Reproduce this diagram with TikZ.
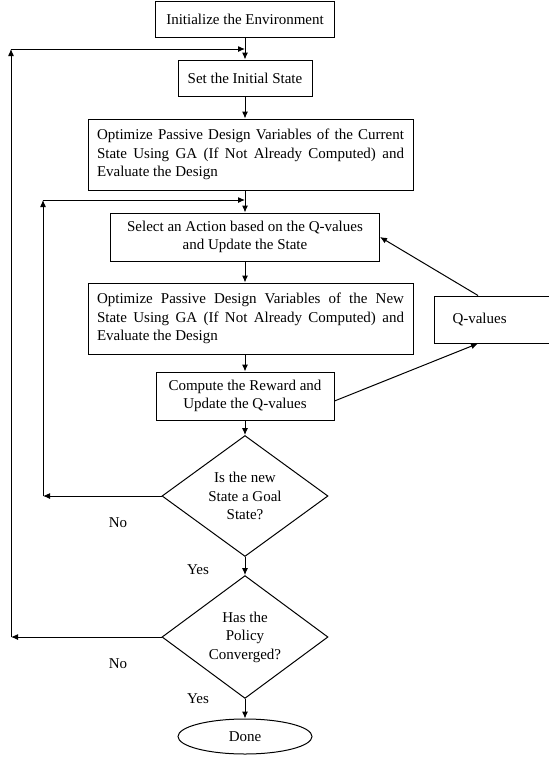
\documentclass[tikz,border=0pt]{standalone}
\usepackage{fontspec}
\setmainfont{Liberation Serif}
\usetikzlibrary{arrows.meta,shapes.geometric}
\newcommand{\flowfont}{\fontsize{15}{18.5}\selectfont}
\tikzstyle{bx}=[rectangle,draw=black,line width=1pt,inner sep=0pt,
  font=\flowfont,align=center]
\tikzstyle{jbx}=[bx,inner xsep=9pt,text width=307pt,align=justify,
  minimum height=71pt]
\tikzstyle{dm}=[diamond,draw=black,line width=1pt,inner sep=0pt,
  minimum width=166pt,minimum height=116pt,font=\flowfont,align=center]
\tikzstyle{el}=[ellipse,draw=black,line width=1pt,inner sep=0pt,
  minimum width=134pt,minimum height=35pt,font=\flowfont]
\tikzstyle{lbl}=[font=\flowfont,inner sep=0pt]
\tikzstyle{ar}=[line width=1pt,-{Latex[length=7pt,width=6pt]}]

\begin{document}
\begin{tikzpicture}[x=1pt,y=-1pt]
    \useasboundingbox (0,0) rectangle (549,758);
    \node [style=bx,minimum width=179pt,minimum height=36pt] (0) at (245,19) {Initialize the Environment};
    \node [style=bx,minimum width=134pt,minimum height=36pt] (1) at (245,78) {Set the Initial State};
    \node [style=jbx] (2) at (250.5,154.5) {Optimize Passive Design Variables of the Current\linebreak
      State Using GA (If Not Already Computed) and\linebreak Evaluate the Design};
    \node [style=bx,minimum width=269pt,minimum height=48pt] (3) at (245,237) {Select an Action based on the Q-values\\and Update the State};
    \node [style=jbx] (4) at (250.5,318.5) {Optimize Passive Design Variables of the New\linebreak
      State Using GA (If Not Already Computed) and\linebreak Evaluate the Design};
    \node [style=bx,minimum width=178pt,minimum height=48pt] (5) at (245,396) {Compute the Reward and\\Update the Q-values};
    \node [style=bx,anchor=west,minimum width=126pt,minimum height=47pt,
      text width=90pt,inner xsep=18pt,align=left] (6) at (434,319.5) {Q-values};
    \node [style=dm] (7) at (245,496) {Is the new\\State a Goal\\State?};
    \node [style=dm] (8) at (245,637) {Has the\\Policy\\Converged?};
    \node [style=el] (9) at (245,736.5) {Done};
    \node [style=lbl] (n1) at (118,523) {No};
    \node [style=lbl] (y1) at (198,570) {Yes};
    \node [style=lbl] (n2) at (118,664) {No};
    \node [style=lbl] (y2) at (198,699) {Yes};
    \coordinate (a) at (43,496);
    \coordinate (b) at (43,200);
    \coordinate (c) at (245,200);
    \coordinate (d) at (11,637);
    \coordinate (e) at (11,49);
    \coordinate (f) at (245,49);
    \draw [style=ar] (0) to (1);
    \draw [style=ar] (1.south) to (1.south |- 2.north);
    \draw [style=ar] (2.south -| 3.north) to (3.north);
    \draw [style=ar] (3.south) to (3.south |- 4.north);
    \draw [style=ar] (4.south -| 5.north) to (5.north);
    \draw [style=ar] (5) to (7);
    \draw [style=ar] (7) to (8);
    \draw [style=ar] (8) to (9);
    \draw [style=ar] ([yshift=-5pt]5.east) to ([xshift=44pt]6.south west);
    \draw [style=ar] ([xshift=44pt]6.north west) to (3.east);
    \draw [style=ar] (7.west) to (a);
    \draw [style=ar] (a) to (b);
    \draw [style=ar] (b) to (c);
    \draw [style=ar] (8.west) to (d);
    \draw [style=ar] (d) to (e);
    \draw [style=ar] (e) to (f);
\end{tikzpicture}
\end{document}
